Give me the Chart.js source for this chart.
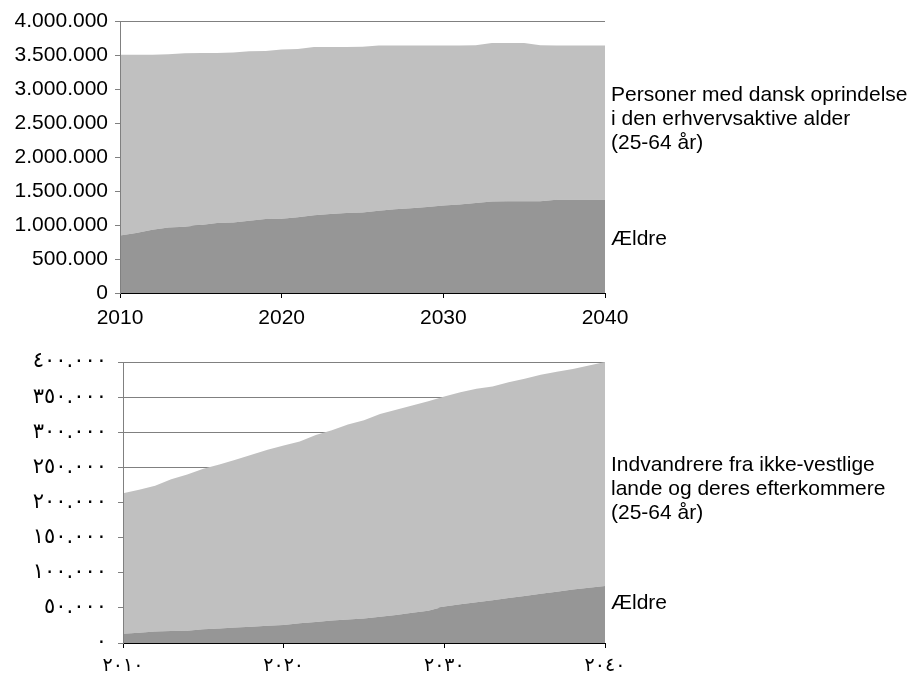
<!DOCTYPE html>
<html lang="da">
<head>
<meta charset="UTF-8">
<title>Befolkning 25-64 år og ældre</title>
<script src="https://cdn.jsdelivr.net/npm/chart.js"></script>
<style>
  body { margin: 0; padding: 0; background: #fff; color: #000; font-family: 'Liberation Sans', Arial, sans-serif; }
  #page { position: relative; width: 922px; height: 675px; overflow: hidden; }
  .box { position: absolute; left: 0; width: 922px; }
  #topBox { top: 0; height: 330px; }
  #bottomBox { top: 330px; height: 345px; }
  .note { position: absolute; left: 611px; font-size: 21px; line-height: 24.2px; white-space: nowrap; }
</style>
</head>
<body>
<div id="page">
  <div class="box" id="topBox"><canvas id="topChart"></canvas></div>
  <div class="box" id="bottomBox"><canvas id="bottomChart"></canvas></div>
  <div class="note" style="top:82px">Personer med dansk oprindelse<br>i den erhvervsaktive alder<br>(25-64 år)</div>
  <div class="note" style="top:226px">Ældre</div>
  <div class="note" style="top:452px">Indvandrere fra ikke-vestlige<br>lande og deres efterkommere<br>(25-64 år)</div>
  <div class="note" style="top:590px">Ældre</div>
</div>
<script>
const years = [2010, 2011, 2012, 2013, 2014, 2015, 2016, 2017, 2018, 2019,
               2020, 2021, 2022, 2023, 2024, 2025, 2026, 2027, 2028, 2029,
               2030, 2031, 2032, 2033, 2034, 2035, 2036, 2037, 2038, 2039, 2040];

// dansk oprindelse
const danskAeldre = [847000, 882000, 931000, 965000, 975000, 1000000, 1029000, 1038000, 1063000, 1088000,
                     1093000, 1115000, 1145000, 1160000, 1175000, 1185000, 1210000, 1232000, 1245000, 1265000,
                     1288000, 1300000, 1325000, 1347000, 1350000, 1350000, 1350000, 1372000, 1372000, 1372000, 1372000];
const danskErhverv = [2658000, 2623000, 2574000, 2545000, 2550000, 2530000, 2501000, 2497000, 2492000, 2472000,
                      2487000, 2475000, 2472000, 2457000, 2442000, 2435000, 2431000, 2409000, 2396000, 2376000,
                      2353000, 2341000, 2320000, 2329000, 2326000, 2326000, 2295000, 2269000, 2269000, 2269000, 2269000];

// indvandrere fra ikke-vestlige lande og efterkommere
const indvAeldre = [13000, 14500, 16500, 17000, 17500, 19500, 20500, 22000, 23000, 24500,
                    25500, 28000, 30000, 32000, 33500, 35000, 37500, 40000, 43000, 46000,
                    52000, 55000, 58000, 61000, 64000, 67000, 70000, 73000, 76000, 78500, 81000];
const indvErhverv = [200000, 203500, 207500, 216000, 222500, 228500, 233500, 239000, 245000, 250500,
                     255500, 259000, 266000, 271000, 277500, 282000, 288500, 292000, 295000, 298000,
                     299000, 302000, 304000, 304000, 307000, 309000, 312000, 313000, 314000, 316500, 319000];

const topYLabels = ['0', '500.000', '1.000.000', '1.500.000', '2.000.000', '2.500.000', '3.000.000', '3.500.000', '4.000.000'];
const bottomYLabels = ['٠', '٥٠.٠٠٠', '١٠٠.٠٠٠', '١٥٠.٠٠٠', '٢٠٠.٠٠٠', '٢٥٠.٠٠٠', '٣٠٠.٠٠٠', '٣٥٠.٠٠٠', '٤٠٠.٠٠٠'];
const topXLabels = ['2010', '2020', '2030', '2040'];
const bottomXLabels = ['٢٠١٠', '٢٠٢٠', '٢٠٣٠', '٢٠٤٠'];

const darkGray = '#969696';
const lightGray = '#c0c0c0';

function areaChart(id, older, working, yMax, yLabels, xLabels, geo) {
    return new Chart(document.getElementById(id), {
        type: 'line',
        data: {
            labels: years,
            datasets: [
                {data: older, backgroundColor: darkGray, borderColor: darkGray, borderWidth: 0, pointRadius: 0, fill: 'origin'},
                {data: working, backgroundColor: lightGray, borderColor: lightGray, borderWidth: 0, pointRadius: 0, fill: '-1'}
            ]
        },
        options: {
            responsive: true,
            maintainAspectRatio: false,
            animation: false,
            layout: {padding: {top: geo.top, right: 317, left: 0, bottom: 0}},
            plugins: {legend: {display: false}, tooltip: {enabled: false}},
            scales: {
                x: {
                    type: 'linear', min: 2010, max: 2040,
                    ticks: {stepSize: 10, padding: geo.xPad, color: '#000', font: geo.xFont,
                            maxRotation: 0, callback: v => xLabels[Math.round((v - 2010) / 10)]},
                    grid: {drawOnChartArea: false, color: '#000', tickLength: 5},
                    border: {color: '#000', z: 1},
                    afterFit: s => { s.height = geo.xHeight; }
                },
                y: {
                    stacked: true, min: 0, max: yMax,
                    ticks: {stepSize: yMax / 8, padding: geo.yPad, color: '#000', font: geo.yFont,
                            callback: (v, i) => yLabels[i]},
                    grid: {color: '#808080', tickLength: 5},
                    border: {color: '#808080', z: 1},
                    afterFit: s => { s.width = geo.yWidth; }
                }
            }
        }
    });
}

areaChart('topChart', danskAeldre, danskErhverv, 4000000, topYLabels, topXLabels, {
    top: 21, xHeight: 37, yWidth: 120, xPad: 8, yPad: 7,
    xFont: {family: "'Liberation Sans', Arial, sans-serif", size: 21},
    yFont: {family: "'Liberation Sans', Arial, sans-serif", size: 21}
});

areaChart('bottomChart', indvAeldre, indvErhverv, 400000, bottomYLabels, bottomXLabels, {
    top: 32, xHeight: 32, yWidth: 123, xPad: 7, yPad: 11,
    xFont: {family: "'DejaVu Sans', sans-serif", size: 19},
    yFont: {family: "'DejaVu Sans', sans-serif", size: 21}
});
</script>
</body>
</html>
